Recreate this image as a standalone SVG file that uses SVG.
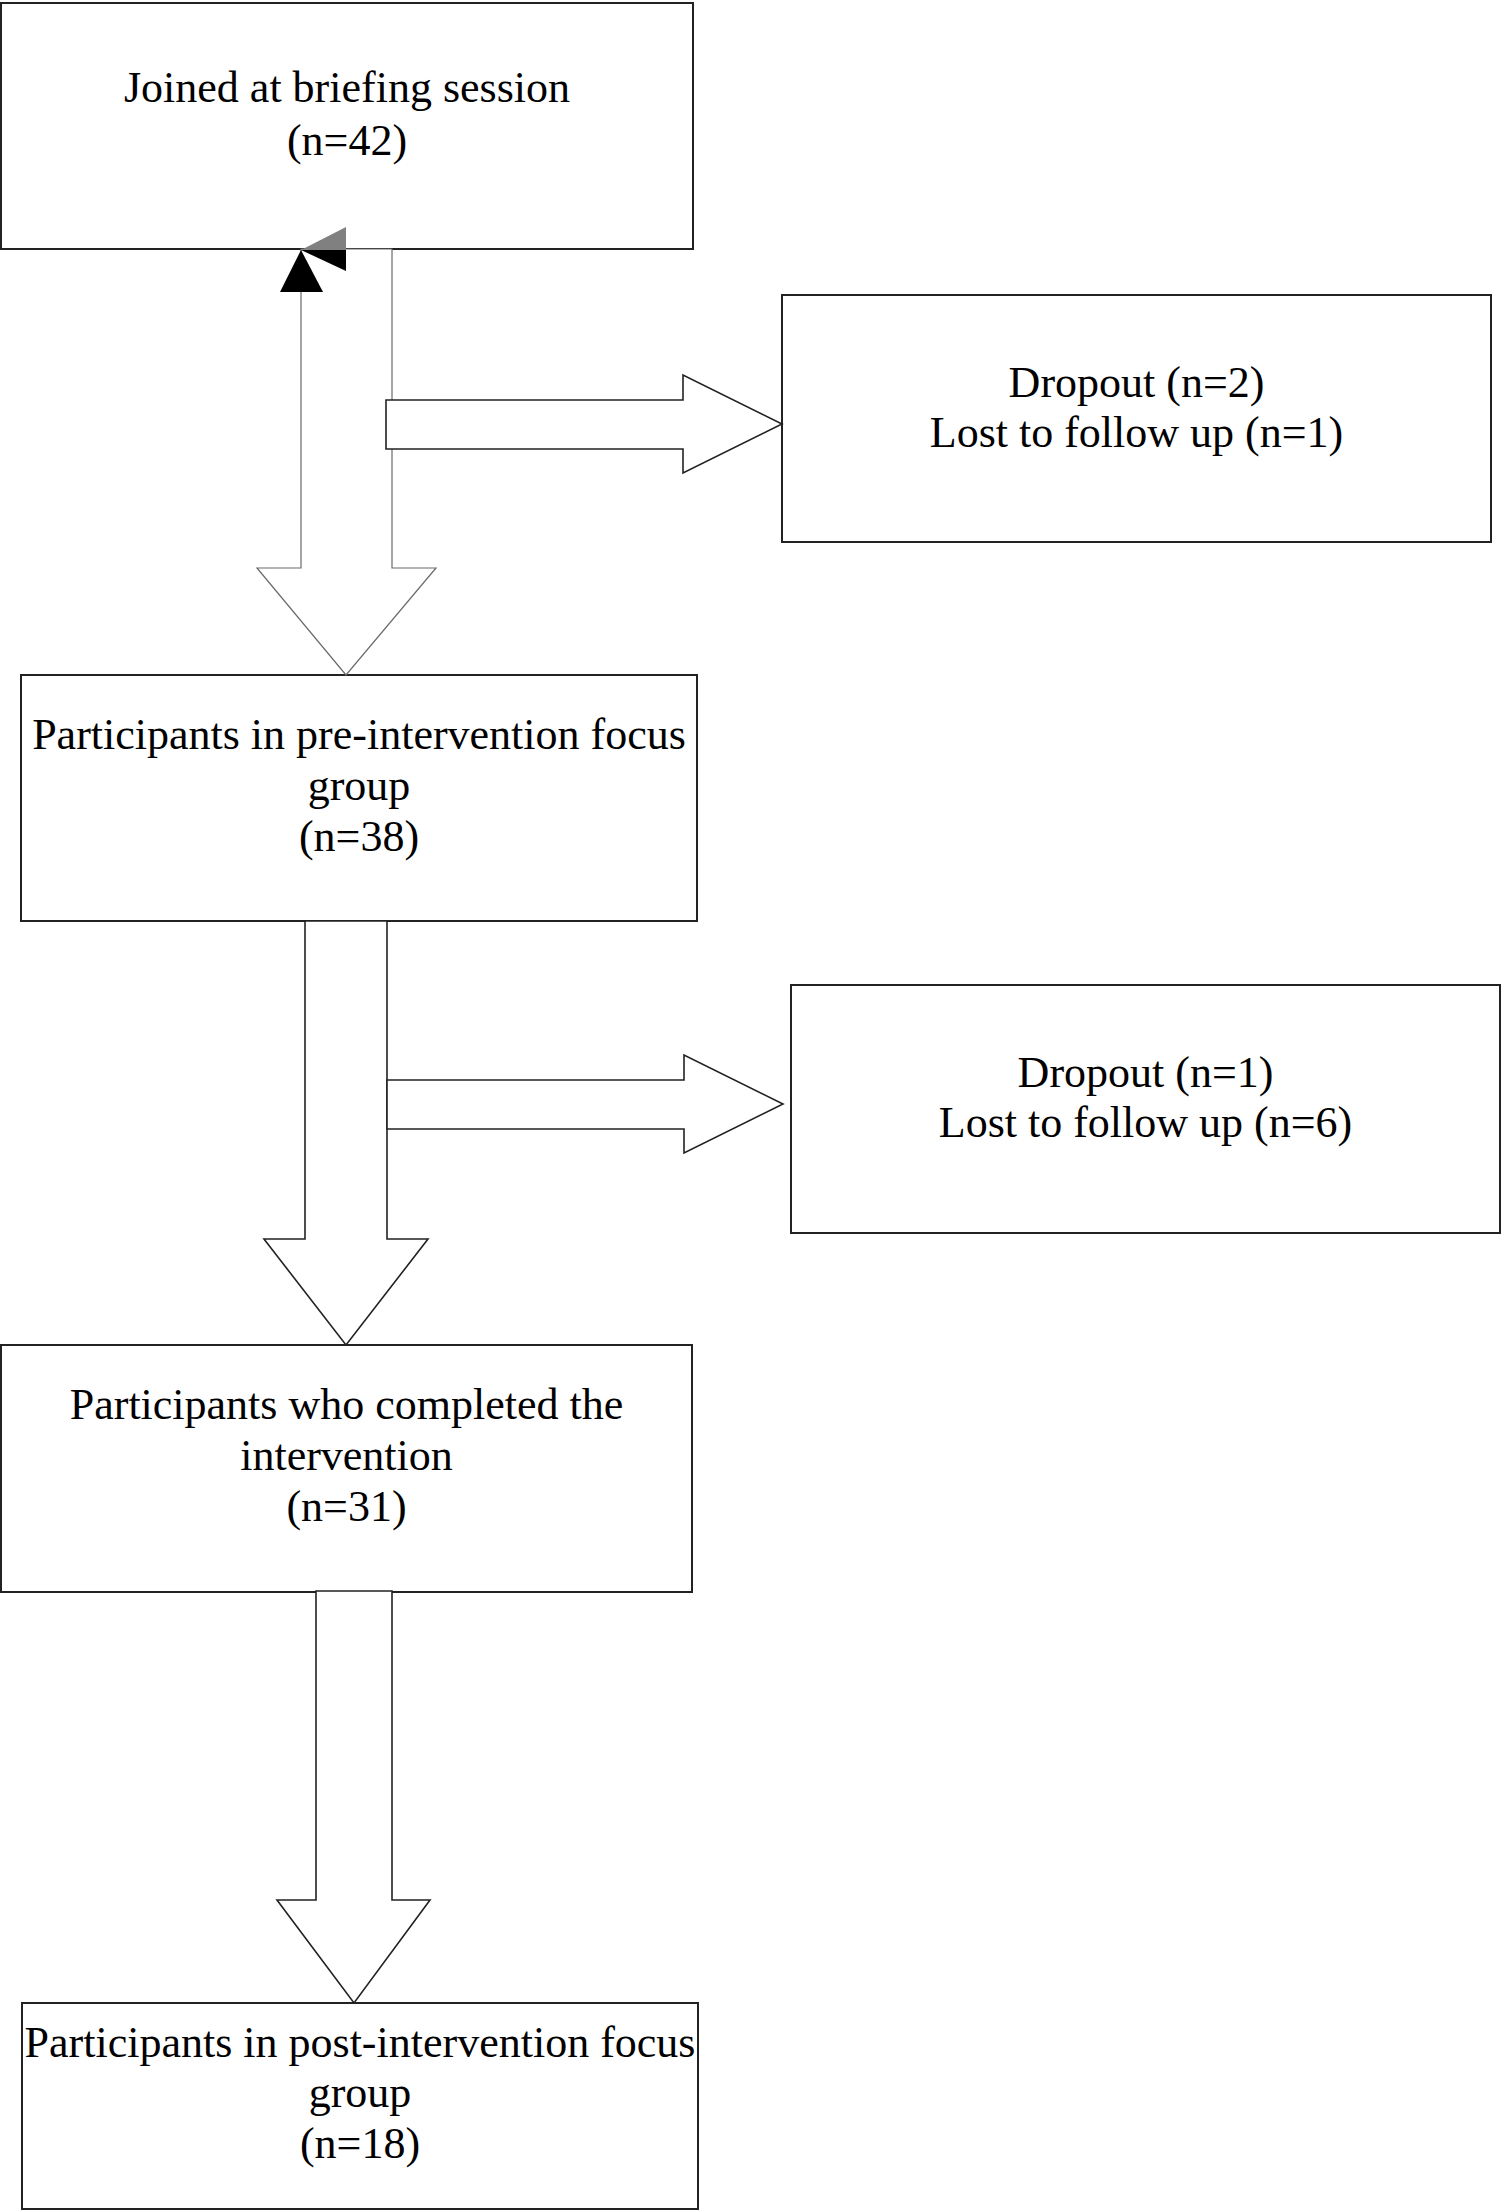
<svg xmlns="http://www.w3.org/2000/svg" width="1502" height="2212" viewBox="0 0 1502 2212">
<style>
.box{fill:#fff;stroke:#222;stroke-width:2}
.t{font-family:"Liberation Serif","Times New Roman",serif;font-size:44px;fill:#000;text-anchor:middle}
.blk{fill:#fff;stroke:#222;stroke-width:1.6;stroke-linejoin:miter}
.gry{fill:#fff;stroke:#6a6a6a;stroke-width:1.2}
</style>
<rect width="1502" height="2212" fill="#fff"/>
<g id="n1">
<rect class="box" x="1" y="3" width="692" height="246"/>
<text class="t" x="347" y="102">Joined at briefing session</text>
<text class="t" x="347" y="155">(n=42)</text>
</g>
<g id="n2">
<rect class="box" x="782" y="295" width="709" height="247"/>
<text class="t" x="1136.5" y="397">Dropout (n=2)</text>
<text class="t" x="1136.5" y="447">Lost to follow up (n=1)</text>
</g>
<g id="n3">
<rect class="box" x="21" y="675" width="676" height="246"/>
<text class="t" x="359" y="749">Participants in pre-intervention focus</text>
<text class="t" x="359" y="800">group</text>
<text class="t" x="359" y="851">(n=38)</text>
</g>
<g id="n4">
<rect class="box" x="791" y="985" width="709" height="248"/>
<text class="t" x="1145.5" y="1087">Dropout (n=1)</text>
<text class="t" x="1145.5" y="1137">Lost to follow up (n=6)</text>
</g>
<g id="n5">
<rect class="box" x="1" y="1345" width="691" height="247"/>
<text class="t" x="346.5" y="1419">Participants who completed the</text>
<text class="t" x="346.5" y="1470">intervention</text>
<text class="t" x="346.5" y="1521">(n=31)</text>
</g>
<g id="n6">
<rect class="box" x="22" y="2003" width="676" height="206"/>
<text class="t" x="360" y="2057">Participants in post-intervention focus</text>
<text class="t" x="360" y="2107">group</text>
<text class="t" x="360" y="2158">(n=18)</text>
</g>
<g id="connectors">
<polygon class="gry" points="301,249 392,249 392,568 436,568 346,675 257,568 301,568"/>
<polygon fill="#000" points="301,250 323,292 280,292"/>
<polygon fill="#808080" points="301,250 346,227 346,250"/>
<polygon fill="#000" points="301,250 346,250 346,271"/>
<polygon class="blk" points="386,400 683,400 683,375 782,424 683,473 683,449 386,449"/>
<polygon class="blk" points="305,921 387,921 387,1239 428,1239 346,1345 264,1239 305,1239"/>
<polygon class="blk" points="387,1080 684,1080 684,1055 783,1104 684,1153 684,1129 387,1129"/>
<polygon class="blk" points="316,1591 392,1591 392,1900 430,1900 354,2003 277,1900 316,1900"/>
</g>
</svg>
